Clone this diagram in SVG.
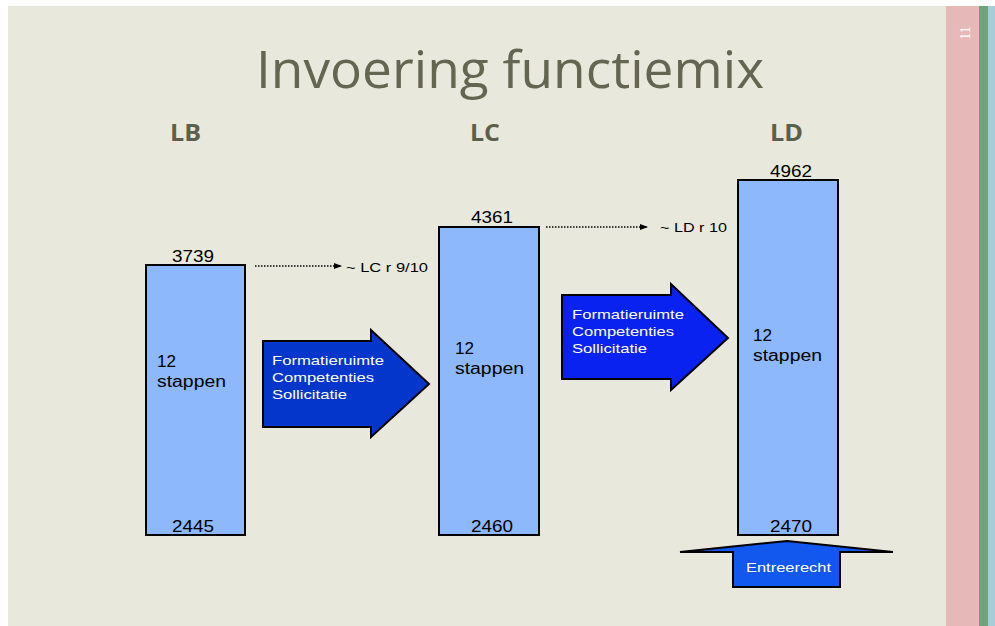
<svg xmlns="http://www.w3.org/2000/svg" width="995" height="626" viewBox="0 0 995 626">
<defs>
<style>
.bar{fill:#8db8fc;stroke:#000;stroke-width:2}
.num{font-family:"Liberation Sans",Arial,sans-serif;font-size:16px;fill:#000}
.lbl{font-family:"Liberation Sans",Arial,sans-serif;font-size:16px;fill:#000}
.small{font-family:"Liberation Sans",Arial,sans-serif;font-size:13px;fill:#000}
.wt{font-family:"Liberation Sans",Arial,sans-serif;font-size:13px;fill:#fff}
.hd{font-family:"Open Sans","Liberation Sans",sans-serif;font-size:23px;font-weight:bold;fill:#5c604a}
.dot{stroke:#000;stroke-width:1.3;stroke-dasharray:1.5 1.5;fill:none}
</style>
<marker id="ah" markerWidth="8" markerHeight="6" refX="8" refY="3" orient="auto" markerUnits="userSpaceOnUse">
<path d="M0,0 L8,3 L0,6 Z" fill="#000"/>
</marker>
</defs>
<rect x="0" y="0" width="995" height="626" fill="#fff"/>
<rect x="8" y="6" width="987" height="620" fill="#e9e8dc"/>
<rect x="946" y="6" width="33" height="620" fill="#e7b8b8"/>
<rect x="979" y="6" width="9" height="620" fill="#6fa37a"/>
<rect x="988" y="6" width="7" height="620" fill="#a8cdd9"/>
<text transform="translate(970,33) rotate(-90)" font-family="Liberation Serif,serif" font-size="14" fill="#fff" text-anchor="middle">11</text>
<text x="256" y="88" font-family="Open Sans,Liberation Sans,sans-serif" font-size="51" fill="#646652" textLength="508" lengthAdjust="spacingAndGlyphs">Invoering functiemix</text>
<text class="hd" x="170" y="141" textLength="31" lengthAdjust="spacingAndGlyphs">LB</text>
<text class="hd" x="470" y="141" textLength="30" lengthAdjust="spacingAndGlyphs">LC</text>
<text class="hd" x="770" y="141" textLength="33" lengthAdjust="spacingAndGlyphs">LD</text>

<g id="connectors">
<line class="dot" x1="255" y1="266" x2="342" y2="266" marker-end="url(#ah)"/>
<line class="dot" x1="546" y1="227" x2="648" y2="227" marker-end="url(#ah)"/>
</g>

<g id="lb">
<rect class="bar" x="146" y="265" width="99" height="270"/>
<text class="num" x="172" y="262" textLength="42" lengthAdjust="spacingAndGlyphs">3739</text>
<text class="num" x="172" y="532" textLength="42" lengthAdjust="spacingAndGlyphs">2445</text>
<text class="lbl" x="157" y="367" textLength="19" lengthAdjust="spacingAndGlyphs">12</text>
<text class="lbl" x="157" y="387" textLength="69" lengthAdjust="spacingAndGlyphs">stappen</text>
</g>
<g id="lc">
<rect class="bar" x="439" y="227" width="100" height="308"/>
<text class="num" x="471" y="223" textLength="42" lengthAdjust="spacingAndGlyphs">4361</text>
<text class="num" x="471" y="532" textLength="42" lengthAdjust="spacingAndGlyphs">2460</text>
<text class="lbl" x="455" y="354" textLength="19" lengthAdjust="spacingAndGlyphs">12</text>
<text class="lbl" x="455" y="374" textLength="69" lengthAdjust="spacingAndGlyphs">stappen</text>
</g>
<g id="ld">
<rect class="bar" x="738" y="180" width="100" height="355"/>
<text class="num" x="770" y="177" textLength="42" lengthAdjust="spacingAndGlyphs">4962</text>
<text class="num" x="770" y="532" textLength="42" lengthAdjust="spacingAndGlyphs">2470</text>
<text class="lbl" x="753" y="341" textLength="19" lengthAdjust="spacingAndGlyphs">12</text>
<text class="lbl" x="753" y="361" textLength="69" lengthAdjust="spacingAndGlyphs">stappen</text>
</g>
<g id="note1"><text class="small" x="346" y="272" textLength="82" lengthAdjust="spacingAndGlyphs">~ LC r 9/10</text></g>
<g id="note2"><text class="small" x="660" y="232" textLength="67" lengthAdjust="spacingAndGlyphs">~ LD r 10</text></g>

<g id="arrow1">
<path d="M263,341 L371,341 L371,330 L429,384 L371,437 L371,427 L263,427 Z" fill="#0436cc" stroke="#000" stroke-width="2"/>
<text class="wt" x="272" y="365" textLength="112" lengthAdjust="spacingAndGlyphs">Formatieruimte</text>
<text class="wt" x="272" y="382" textLength="102" lengthAdjust="spacingAndGlyphs">Competenties</text>
<text class="wt" x="272" y="399" textLength="75" lengthAdjust="spacingAndGlyphs">Sollicitatie</text>
</g>
<g id="arrow2">
<path d="M562,295 L671,295 L671,284 L728,338 L671,390 L671,379 L562,379 Z" fill="#0a22f0" stroke="#000" stroke-width="2"/>
<text class="wt" x="572" y="319" textLength="112" lengthAdjust="spacingAndGlyphs">Formatieruimte</text>
<text class="wt" x="572" y="336" textLength="102" lengthAdjust="spacingAndGlyphs">Competenties</text>
<text class="wt" x="572" y="353" textLength="75" lengthAdjust="spacingAndGlyphs">Sollicitatie</text>
</g>
<g id="entree">
<path d="M680,552 L787,541 L893,552 L840,552 L840,587 L733,587 L733,552 Z" fill="#1257ee" stroke="#000" stroke-width="2"/>
<text class="wt" x="746" y="572" textLength="85" lengthAdjust="spacingAndGlyphs">Entreerecht</text>
</g>
</svg>
